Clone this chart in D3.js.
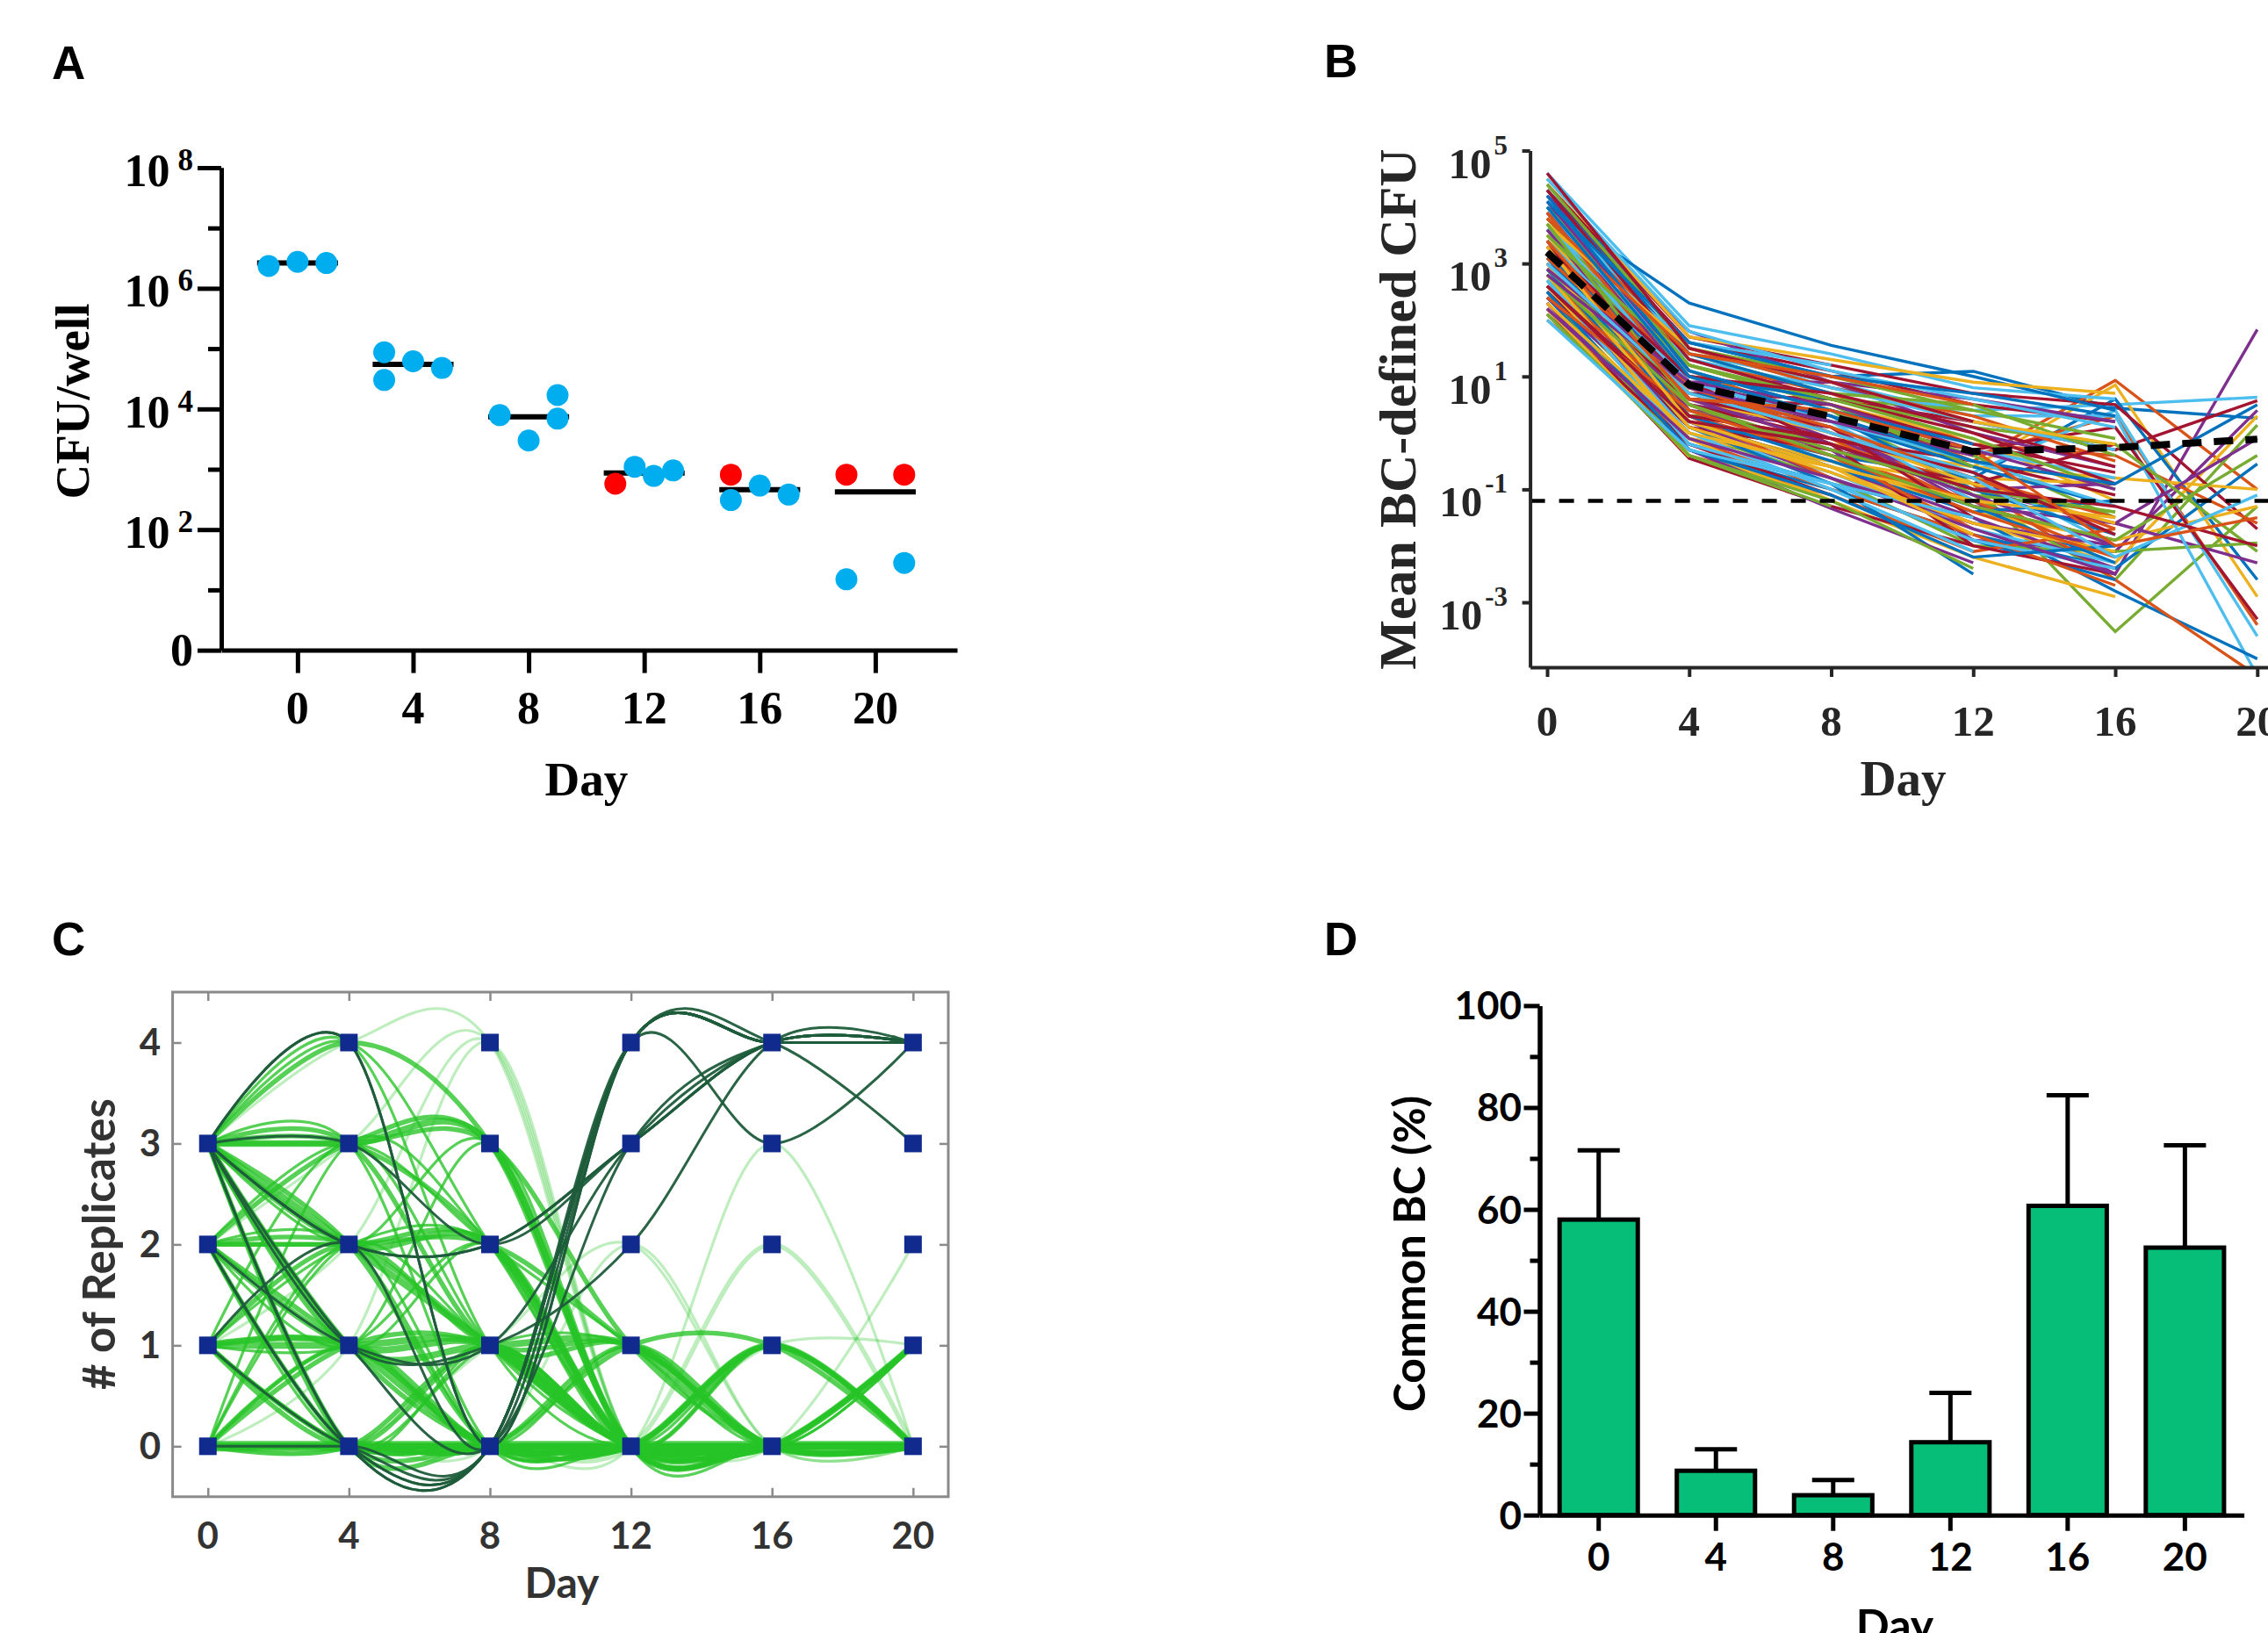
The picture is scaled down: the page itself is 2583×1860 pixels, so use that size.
<!DOCTYPE html>
<meta charset="utf-8">
<script src="https://d3js.org/d3.v7.min.js"></script>
<style>body{margin:0;background:#fff}</style>
<div id="fig"></div>
<script>

// ---------- data ----------
var dayTicks = [0, 4, 8, 12, 16, 20];

// A: CFU per well (x = plotted day, jittered as in the figure)
var cfuDay  = [0,0,0, 4,4,4,4, 8,8,8,8, 12,12,12,12, 16,16,16,16, 20,20,20,20];
var cfuX    = [-1,0,1, 3,3,4,5, 7,8,9,9, 11,11.67,12.33,13, 15,15,16,17, 19,21,19,21];
var cfuVal  = [2.34e6,2.75e6,2.63e6, 87000,30200,61700,47900, 7900,3000,17000,6900,
               575,1100,776,955, 813,309,537,380, 813,813,15,28];
var cfuType = ["b","b","b", "b","b","b","b", "b","b","b","b",
               "r","b","b","b", "r","b","b","b", "r","r","b","b"];

// B: mean BC-defined CFU, log10 values at days 0..20 (null = not detected)
var bcLog = [
  [4.2,1.6,1.0,1.09,0.44,0.26],[3.8,1.2,0.5,-0.5,0.93,-1.0],[3.1,0.6,-0.2,-0.6,0.85,-2.9],
  [2.9,0.4,0.1,-1.2,-2.5,1.83],[3.5,0.9,0.3,-0.9,-3.52,-1.3],[4.0,1.5,0.8,0.4,0.5,0.63],
  [3.3,0.7,0.6,0.2,-0.3,0.57],[2.6,0.2,-0.4,-0.8,0.6,-2.6],[3.7,1.1,0.2,-0.4,0.3,-3.4],
  [2.4,-0.1,-0.6,-1.6,-2.3,0.3],[3.0,0.5,-0.3,-1.9,-2.1,0.4],[2.8,0.3,0.4,-1.1,-2.6,0.14],
  [3.6,1.0,0.0,-0.7,0.4,-3.6],[4.4,1.7,1.2,0.7,0.5,-1.7],[2.2,-0.3,-1.0,-1.8,-2.4,-0.55],
  [3.9,1.3,0.7,-0.2,-0.4,-1.6],[2.7,0.1,-0.5,-1.4,-1.9,-1.3],[3.4,0.8,-0.1,-1.0,-1.6,-2.3],
  [2.5,0.0,-0.8,-2.0,-2.1,-1.95],[4.1,1.4,0.9,0.3,0.3,-4.3],[3.2,0.6,0.2,-0.3,0.1,-3.3],
  [2.3,-0.2,-0.9,-1.5,-2.8,-4.0],[3.0,0.4,-0.2,-0.9,-2.6,-4.3],[3.5,1.0,0.3,-0.6,-0.8,-1.0],
  [2.9,0.5,0.1,-1.3,-1.6,-0.1],[3.8,1.2,0.6,0.1,-0.2,-2.1],
  [4.6,1.9,1.4,0.8,0.6,null],[4.3,1.6,1.1,0.5,0.2,null],[4.0,2.3,1.55,1.0,0.4,null],
  [3.9,1.5,0.8,0.3,-0.5,null],[3.7,1.2,0.5,-0.1,-1.2,null],[3.6,0.9,0.9,0.0,-0.6,null],
  [3.4,1.1,0.4,-0.4,-1.5,null],[3.3,0.8,0.1,-0.7,-2.0,null],[3.2,0.5,-0.1,-0.5,-1.1,null],
  [3.1,0.7,0.3,-1.0,-1.8,null],[3.0,0.3,-0.4,-1.2,-2.2,null],[2.9,0.6,0.0,-0.8,-0.9,null],
  [2.8,0.2,-0.6,-1.5,-2.4,null],[2.7,0.4,-0.2,-1.1,-1.4,null],[2.6,0.0,-0.7,-1.7,-2.3,null],
  [2.5,0.1,-0.3,-0.9,-0.2,null],[2.4,-0.2,-0.9,-1.9,-2.6,null],[2.3,-0.4,-1.1,-2.1,-1.7,null],
  [2.1,-0.3,-1.2,-2.2,-2.9,null],[4.2,1.8,0.9,0.6,0.2,null],[3.8,1.0,0.6,0.4,-0.1,null],
  [3.5,1.3,0.8,0.2,-0.3,null],[3.3,0.6,0.5,-0.2,-0.7,null],[3.0,0.9,0.2,-0.6,-1.3,null],
  [2.8,0.3,-0.1,-1.3,-1.9,null],[2.6,-0.1,-0.5,-0.9,-1.6,null],[2.4,0.2,-0.8,-1.6,-2.0,null],
  [3.6,1.4,0.7,0.5,-0.4,null],[3.9,1.1,0.4,-0.3,-0.8,null],[2.2,-0.45,-1.3,-2.0,-2.5,null],
  [3.1,0.2,-0.6,-1.4,-1.2,null],[2.0,-0.1,-1.0,-1.8,-2.7,null],[4.5,1.7,1.3,0.9,0.7,null],
  [3.4,0.4,-0.3,-1.0,-0.9,null],
  [4.4,1.5,1.0,0.4,null,null],[3.7,0.8,0.2,-1.2,null,null],[3.2,0.9,-0.2,-2.0,null,null],
  [2.9,0.1,-0.9,-2.5,null,null],[2.6,0.5,-0.4,-1.7,null,null],[3.5,0.7,0.0,-0.9,null,null],
  [2.3,-0.3,-1.34,-2.3,null,null],[4.0,1.2,0.5,-0.6,null,null],[2.7,0.0,-1.0,-2.1,null,null],
  [3.0,0.6,0.1,-1.5,null,null],
  [4.3,1.4,0.7,null,null,null],[3.3,0.3,-0.8,null,null,null],[2.8,-0.1,-1.2,null,null,null],
  [3.9,0.9,0.3,null,null,null],[2.5,-0.4,-1.3,null,null,null],[3.6,1.6,1.2,null,null,null],
  [2.1,-0.2,-1.1,null,null,null],[3.1,1.0,0.6,null,null,null],
  [3.4,0.2,null,null,null,null],[2.2,-0.42,null,null,null,null],[4.1,1.1,null,null,null,null],
  [2.9,0.7,null,null,null,null],
  [4.5,1.8,1.1,0.6,0.1,null],[4.3,1.3,0.6,0.0,-0.9,null],[4.1,1.6,1.0,0.7,0.3,null],
  [3.9,0.8,0.0,-0.8,-1.5,null],[3.7,1.5,0.9,0.2,-0.2,null],[3.6,0.6,-0.2,-1.1,-2.0,null],
  [3.5,1.2,0.6,-0.1,-1.0,null],[3.4,0.9,0.2,-0.5,-1.3,null],[3.3,1.0,0.7,0.1,-0.6,null],
  [3.2,0.3,-0.5,-1.3,-2.3,null],[3.1,0.8,0.1,-0.8,-1.7,null],[3.0,0.1,-0.7,-1.6,-2.1,null],
  [2.9,0.9,0.5,-0.3,-1.0,null],[2.8,0.5,-0.3,-1.0,-1.4,null],[2.7,-0.2,-0.9,-1.9,-2.4,null],
  [2.6,0.3,-0.1,-0.7,-1.8,null],[2.5,-0.3,-1.1,-2.2,-2.0,null],[2.4,0.4,-0.4,-1.4,-2.2,null],
  [2.3,0.0,-0.6,-1.2,-1.5,null],[2.2,-0.1,-0.8,-1.7,-2.5,null],[2.1,-0.4,-1.2,-2.4,null,null],
  [2.0,-0.3,-0.9,-1.5,null,null],[4.6,1.5,0.9,0.2,null,null],[4.2,1.1,0.4,-0.2,null,null],
  [3.8,1.4,1.0,0.5,null,null],[3.3,0.2,-0.6,-1.8,null,null],[2.8,0.8,0.2,-0.4,null,null],
  [3.7,0.5,-0.4,-1.3,-1.9,-0.4],[3.0,0.7,0.0,-0.8,-2.2,-1.1],[2.6,0.2,-0.2,-1.0,-1.3,-2.0],
  [4.0,1.0,0.3,-0.5,-0.9,0.5],[3.4,0.6,0.4,-0.3,-2.0,-1.5]
];
var bcMeanLog = [3.2, 0.85, 0.29, -0.33, -0.26, -0.11];
var bcLimit = 0.0625;

// C: number of replicates in which a barcode is found, per day
var repPaths = [
  [3,4,3,0,0,0],[3,4,2,0,0,0],[3,4,1,0,1,0],[3,3,3,0,0,0],[3,3,2,0,1,0],[3,3,1,1,0,0],
  [3,3,0,0,0,1],[3,2,2,0,0,0],[3,2,1,0,0,0],[3,2,3,0,0,0],[3,2,0,0,0,0],[3,1,1,1,0,0],
  [3,1,0,0,0,0],[3,1,2,0,0,0],[3,0,0,0,0,0],[3,0,1,0,0,0],[2,3,3,0,0,0],[2,3,2,1,0,1],
  [2,2,2,0,0,0],[2,2,1,0,0,1],[2,2,0,0,0,0],[2,1,1,0,0,0],[2,1,0,0,1,0],[2,0,0,0,0,0],
  [2,0,1,1,0,0],[2,1,3,0,0,0],[1,1,1,0,0,0],[1,1,0,0,0,0],[1,2,1,1,0,0],[1,2,2,0,0,0],
  [1,0,0,0,0,0],[1,0,1,0,0,1],[1,3,1,0,0,0],[1,1,2,0,1,0],[0,0,0,0,0,0],[0,1,0,0,0,0],
  [0,1,1,0,0,0],[0,2,1,0,0,0],[0,0,1,0,0,0],[0,3,2,0,0,0],[0,2,0,0,0,0],[0,0,0,1,0,0],
  [0,0,0,0,1,0],[0,0,0,0,0,1],[0,0,0,1,1,0],[1,1,0,0,1,0],[0,1,0,1,0,1],[1,0,0,0,0,1],
  [3,3,3,1,0,0],[2,2,2,1,0,0],
  [3,4,4,0,0,0],[2,3,4,0,0,0],[1,2,4,0,0,0],[0,1,4,0,0,0],[0,0,0,0,3,0],[0,0,0,0,2,0],
  [0,0,0,2,0,0],[0,0,0,0,0,2],[0,0,0,0,1,1],[0,0,1,2,0,0],
  [3,4,0,4,4,4],[3,4,0,4,4,4],[3,0,0,4,4,4],[2,0,0,4,4,4],[1,0,0,4,4,4],[3,2,2,3,4,4],
  [3,2,2,3,4,4],[3,3,2,3,4,4],[3,1,1,2,4,4],[2,1,1,3,4,4],[3,0,0,4,3,4],[2,0,0,4,4,3],
  [0,0,0,4,4,4],[1,2,0,4,4,4],[3,1,0,3,4,4]
];
var repCount = [2,1,1,3,2,2, 1,3,3,1,2,3, 2,1,2,1,2,1, 2,2,1,3,2,2, 1,1,3,3,2,1,
                2,2,1,1,5,2, 2,1,2,1,1,2, 3,3,2,2,1,2, 2,2,
                1,1,1,1,1,2, 1,1,1,1,
                1,1,1,1,1,1, 1,1,1,1,1,1, 1,1,1];
var repType = [];
repPaths.forEach(function(p, i) { repType.push(i < 50 ? "lost" : i < 60 ? "rare" : "kept"); });

// D: common barcodes (%)
var commonDays = ["0","4","8","12","16","20"];
var commonMean = [58, 8.7, 3.9, 14.3, 60.7, 52.5];
var commonSD   = [13.6, 4.2, 3.0, 9.7, 21.7, 20.1];

// ---------- page ----------
var svg = d3.select("#fig").append("svg")
    .attr("width", 2583).attr("height", 1860)
    .style("background", "#fff");

var serif = "'Liberation Serif','Times New Roman',serif";
var sans = "'Liberation Sans',Arial,sans-serif";
var lato = "Lato,'Open Sans',sans-serif";

// panel letters
svg.selectAll(".letter")
  .data([["A",59,90],["B",1508,88],["C",59,1088],["D",1508,1088]])
  .join("text")
    .attr("x", function(d) { return d[1]; })
    .attr("y", function(d) { return d[2]; })
    .attr("font-family", sans).attr("font-weight", "bold").attr("font-size", 53)
    .text(function(d) { return d[0]; });

// ===== A =====
var xA = d3.scaleLinear().domain([-2.64, 22.83]).range([252, 1090]);
var yA = d3.scaleLog().domain([1, 1e8]).range([740.6, 191]);
var gA = svg.append("g");

gA.append("g").attr("transform", "translate(252,0)")
  .call(d3.axisLeft(yA).tickValues([1e1,1e3,1e5,1e7]).tickSize(15).tickSizeOuter(0).tickFormat(""));
gA.append("g").attr("transform", "translate(252,0)")
  .call(d3.axisLeft(yA).tickValues([1,1e2,1e4,1e6,1e8]).tickSize(27).tickSizeOuter(0).tickFormat(""));
gA.append("g").attr("transform", "translate(0," + yA(1) + ")")
  .call(d3.axisBottom(xA).tickValues(dayTicks).tickSize(26).tickSizeOuter(0).tickFormat(""));
gA.selectAll("path, line").attr("stroke", "#000").attr("stroke-width", 5);

var yLabA = gA.selectAll(".ylab").data([1e8,1e6,1e4,1e2]).join("text")
    .attr("x", 220).attr("y", function(d) { return yA(d) + 21; })
    .attr("text-anchor", "end").attr("font-family", serif).attr("font-weight", "bold")
    .attr("font-size", 52);
yLabA.append("tspan").text("10");
yLabA.append("tspan").attr("font-size", 35).attr("dy", -18).attr("dx", 9)
    .text(function(d) { return Math.round(Math.log10(d)); });
gA.append("text").attr("x", 220).attr("y", yA(1) + 17).attr("text-anchor", "end")
    .attr("font-family", serif).attr("font-weight", "bold").attr("font-size", 52).text("0");

gA.selectAll(".xlab").data(dayTicks).join("text")
    .attr("x", function(d) { return xA(d); }).attr("y", 824)
    .attr("text-anchor", "middle").attr("font-family", serif).attr("font-weight", "bold")
    .attr("font-size", 52).text(function(d) { return d; });

gA.append("text").attr("x", xA(10)).attr("y", 906).attr("text-anchor", "middle")
    .attr("font-family", serif).attr("font-weight", "bold").attr("font-size", 55).text("Day");
gA.append("text").attr("transform", "translate(101,457) rotate(-90)").attr("text-anchor", "middle")
    .attr("font-family", serif).attr("font-weight", "bold").attr("font-size", 55).text("CFU/well");

// medians
gA.selectAll(".med").data(dayTicks).join("line")
    .attr("x1", function(d) { return xA(d - 1.4); })
    .attr("x2", function(d) { return xA(d + 1.4); })
    .attr("y1", function(d) { return yA(d3.median(cfuVal.filter(function(v, i) { return cfuDay[i] === d; }))); })
    .attr("y2", function(d) { return yA(d3.median(cfuVal.filter(function(v, i) { return cfuDay[i] === d; }))); })
    .attr("stroke", "#000").attr("stroke-width", 6);

var colA = {b: "#00AEEF", r: "#FF0000"};
gA.selectAll(".pt").data(cfuVal).join("circle")
    .attr("cx", function(d, i) { return xA(cfuX[i]); })
    .attr("cy", function(d) { return yA(d); })
    .attr("r", 12.5)
    .attr("fill", function(d, i) { return colA[cfuType[i]]; });

// ===== B =====
var xB = d3.scaleLinear().domain([-0.48, 20.5]).range([1742.6, 2591]);
var yB = d3.scaleLog().domain([Math.pow(10, -4.15), 1e5]).range([760, 171.5]);
var gB = svg.append("g");
svg.append("clipPath").attr("id", "clipB").append("rect")
    .attr("x", 1742.6).attr("y", 171.5).attr("width", 2583 - 1742.6).attr("height", 760 - 171.5);

var matlab = ["#0072BD","#D95319","#EDB120","#7E2F8E","#77AC30","#4DBEEE","#A2142F"];
var lineB = d3.line()
    .defined(function(d) { return d != null; })
    .x(function(d, i) { return xB(dayTicks[i]); })
    .y(function(d) { return yB(Math.pow(10, d)); });

var plotB = gB.append("g").attr("clip-path", "url(#clipB)");
plotB.selectAll(".bc").data(bcLog).join("path")
    .attr("d", lineB).attr("fill", "none").attr("stroke-width", 3.4)
    .attr("stroke", function(d, i) { return matlab[i % matlab.length]; });

plotB.append("path").datum(bcMeanLog).attr("d", lineB)
    .attr("fill", "none").attr("stroke", "#000").attr("stroke-width", 8)
    .attr("stroke-dasharray", "22,14");
plotB.append("line")
    .attr("x1", xB.range()[0]).attr("x2", xB.range()[1])
    .attr("y1", yB(bcLimit)).attr("y2", yB(bcLimit))
    .attr("stroke", "#000").attr("stroke-width", 4.5).attr("stroke-dasharray", "17,16");

gB.append("g").attr("transform", "translate(1742.6,0)")
  .call(d3.axisLeft(yB).tickValues([1e-3,1e-1,1e1,1e3,1e5]).tickSize(9).tickSizeOuter(0).tickFormat(""));
gB.append("g").attr("transform", "translate(0,760)")
  .call(d3.axisBottom(xB).tickValues(dayTicks).tickSize(11).tickSizeOuter(0).tickFormat(""));
gB.selectAll("g path, g line").filter(function() { return !this.closest("[clip-path]"); })
    .attr("stroke", "#262626").attr("stroke-width", 4);

var yLabB = gB.selectAll(".ylab").data([5,3,1,-1,-3]).join("text")
    .attr("x", 1717).attr("y", function(d) { return yB(Math.pow(10, d)) + 31; })
    .attr("text-anchor", "end").attr("font-family", serif).attr("font-weight", "bold")
    .attr("font-size", 49).attr("fill", "#262626");
yLabB.append("tspan").text("10");
yLabB.append("tspan").attr("font-size", 31).attr("dy", -27).attr("dx", 3).text(function(d) { return d; });

gB.selectAll(".xlab").data(dayTicks).join("text")
    .attr("x", function(d) { return xB(d); }).attr("y", 838)
    .attr("text-anchor", "middle").attr("font-family", serif).attr("font-weight", "bold")
    .attr("font-size", 49).attr("fill", "#262626").text(function(d) { return d; });
gB.append("text").attr("x", 2167.5).attr("y", 906).attr("text-anchor", "middle")
    .attr("font-family", serif).attr("font-weight", "bold").attr("font-size", 57)
    .attr("fill", "#262626").text("Day");
gB.append("text").attr("transform", "translate(1612,466) rotate(-90)").attr("text-anchor", "middle")
    .attr("font-family", serif).attr("font-weight", "bold").attr("font-size", 60)
    .attr("fill", "#262626").text("Mean BC-defined CFU");

// ===== C =====
var xC = d3.scaleLinear().domain([-1, 21]).range([196.6, 1080]);
var yC = d3.scaleLinear().domain([-0.5, 4.5]).range([1704.8, 1130]);
var gC = svg.append("g");
svg.append("clipPath").attr("id", "clipC").append("rect")
    .attr("x", 196.6).attr("y", 1130).attr("width", 1080 - 196.6).attr("height", 1704.8 - 1130);

var lineC = d3.line()
    .x(function(d, i) { return xC(dayTicks[i]); })
    .y(function(d) { return yC(d); })
    .curve(d3.curveCatmullRom.alpha(0));
var widthC = d3.scaleLinear().domain([1, 5]).range([3.2, 12]);
var styleC = {
  lost: {color: "#27c427", opacity: 0.78},
  rare: {color: "#27c427", opacity: 0.3},
  kept: {color: "#1d5c3b", opacity: 0.95}
};
var plotC = gC.append("g").attr("clip-path", "url(#clipC)");
plotC.selectAll(".rep").data(repPaths).join("path")
    .attr("d", lineC).attr("fill", "none")
    .attr("stroke", function(d, i) { return styleC[repType[i]].color; })
    .attr("stroke-opacity", function(d, i) { return styleC[repType[i]].opacity; })
    .attr("stroke-width", function(d, i) { return repType[i] === "kept" ? 3 : widthC(repCount[i]); });

// states that occur
var states = [];
dayTicks.forEach(function(day, j) {
  d3.range(0, 5).forEach(function(n) {
    if (repPaths.some(function(p) { return p[j] === n; })) states.push([day, n]);
  });
});
plotC.selectAll(".st").data(states).join("rect")
    .attr("x", function(d) { return xC(d[0]) - 10; })
    .attr("y", function(d) { return yC(d[1]) - 10; })
    .attr("width", 20).attr("height", 20).attr("fill", "#102a8e");

gC.append("rect").attr("x", 196.6).attr("y", 1130).attr("width", 1080 - 196.6).attr("height", 1704.8 - 1130)
    .attr("fill", "none").attr("stroke", "#8a8a8a").attr("stroke-width", 3);
gC.append("g").attr("transform", "translate(0,1704.8)")
  .call(d3.axisTop(xC).tickValues(dayTicks).tickSize(10).tickSizeOuter(0).tickFormat(""));
gC.append("g").attr("transform", "translate(0,1130)")
  .call(d3.axisBottom(xC).tickValues(dayTicks).tickSize(10).tickSizeOuter(0).tickFormat(""));
gC.append("g").attr("transform", "translate(196.6,0)")
  .call(d3.axisRight(yC).tickValues([0,1,2,3,4]).tickSize(10).tickSizeOuter(0).tickFormat(""));
gC.append("g").attr("transform", "translate(1080,0)")
  .call(d3.axisLeft(yC).tickValues([0,1,2,3,4]).tickSize(10).tickSizeOuter(0).tickFormat(""));
gC.selectAll("g > g path.domain").remove();
gC.selectAll("g > g line").attr("stroke", "#8a8a8a").attr("stroke-width", 2.5);

gC.selectAll(".xlab").data(dayTicks).join("text")
    .attr("x", function(d) { return xC(d); }).attr("y", 1764)
    .attr("text-anchor", "middle").attr("font-family", lato).attr("font-weight", "bold")
    .attr("font-size", 42).attr("fill", "#333").text(function(d) { return d; });
gC.selectAll(".ylab").data([0,1,2,3,4]).join("text")
    .attr("x", 183).attr("y", function(d) { return yC(d) + 15; })
    .attr("text-anchor", "end").attr("font-family", lato).attr("font-weight", "bold")
    .attr("font-size", 42).attr("fill", "#333").text(function(d) { return d; });
gC.append("text").attr("x", 640).attr("y", 1820).attr("text-anchor", "middle")
    .attr("font-family", lato).attr("font-weight", "bold").attr("font-size", 48)
    .attr("fill", "#333").text("Day");
gC.append("text").attr("transform", "translate(131,1417) rotate(-90)").attr("text-anchor", "middle")
    .attr("font-family", lato).attr("font-weight", "bold").attr("font-size", 51)
    .attr("fill", "#333").text("# of Replicates");

// ===== D =====
var xD = d3.scaleBand().domain(commonDays).range([1753.5, 2555.6]).paddingInner(0.333).paddingOuter(0.17);
var yD = d3.scaleLinear().domain([0, 100]).range([1725.7, 1145.4]);
var gD = svg.append("g");

gD.selectAll(".err").data(commonMean).join("line")
    .attr("x1", function(d, i) { return xD(commonDays[i]) + xD.bandwidth() / 2; })
    .attr("x2", function(d, i) { return xD(commonDays[i]) + xD.bandwidth() / 2; })
    .attr("y1", function(d) { return yD(d); })
    .attr("y2", function(d, i) { return yD(d + commonSD[i]); })
    .attr("stroke", "#000").attr("stroke-width", 5);
gD.selectAll(".cap").data(commonMean).join("line")
    .attr("x1", function(d, i) { return xD(commonDays[i]) + xD.bandwidth() / 2 - 24; })
    .attr("x2", function(d, i) { return xD(commonDays[i]) + xD.bandwidth() / 2 + 24; })
    .attr("y1", function(d, i) { return yD(d + commonSD[i]); })
    .attr("y2", function(d, i) { return yD(d + commonSD[i]); })
    .attr("stroke", "#000").attr("stroke-width", 5);
gD.selectAll(".bar").data(commonMean).join("rect")
    .attr("x", function(d, i) { return xD(commonDays[i]); })
    .attr("y", function(d) { return yD(d); })
    .attr("width", xD.bandwidth())
    .attr("height", function(d) { return yD(0) - yD(d); })
    .attr("fill", "#07BE78").attr("stroke", "#000").attr("stroke-width", 5);

gD.append("g").attr("transform", "translate(1753.5,0)")
  .call(d3.axisLeft(yD).tickValues([10,30,50,70,90]).tickSize(11).tickSizeOuter(0).tickFormat(""));
gD.append("g").attr("transform", "translate(1753.5,0)")
  .call(d3.axisLeft(yD).tickValues([0,20,40,60,80,100]).tickSize(18).tickSizeOuter(0).tickFormat(""));
gD.append("g").attr("transform", "translate(0," + yD(0) + ")")
  .call(d3.axisBottom(xD).tickSize(18).tickSizeOuter(0).tickFormat(""));
gD.selectAll("g > g path, g > g line").attr("stroke", "#000").attr("stroke-width", 5);

gD.selectAll(".ylab").data([0,20,40,60,80,100]).join("text")
    .attr("x", 1733).attr("y", function(d) { return yD(d) + 16; })
    .attr("text-anchor", "end").attr("font-family", lato).attr("font-weight", "bold")
    .attr("font-size", 44).text(function(d) { return d; });
gD.selectAll(".xlab").data(commonDays).join("text")
    .attr("x", function(d) { return xD(d) + xD.bandwidth() / 2; }).attr("y", 1789)
    .attr("text-anchor", "middle").attr("font-family", lato).attr("font-weight", "bold")
    .attr("font-size", 44).text(function(d) { return d; });
gD.append("text").attr("x", 2158).attr("y", 1869).attr("text-anchor", "middle")
    .attr("font-family", lato).attr("font-weight", "bold").attr("font-size", 50).text("Day");
gD.append("text").attr("transform", "translate(1623,1428) rotate(-90)").attr("text-anchor", "middle")
    .attr("font-family", lato).attr("font-weight", "bold").attr("font-size", 50).text("Common BC (%)");

</script>
